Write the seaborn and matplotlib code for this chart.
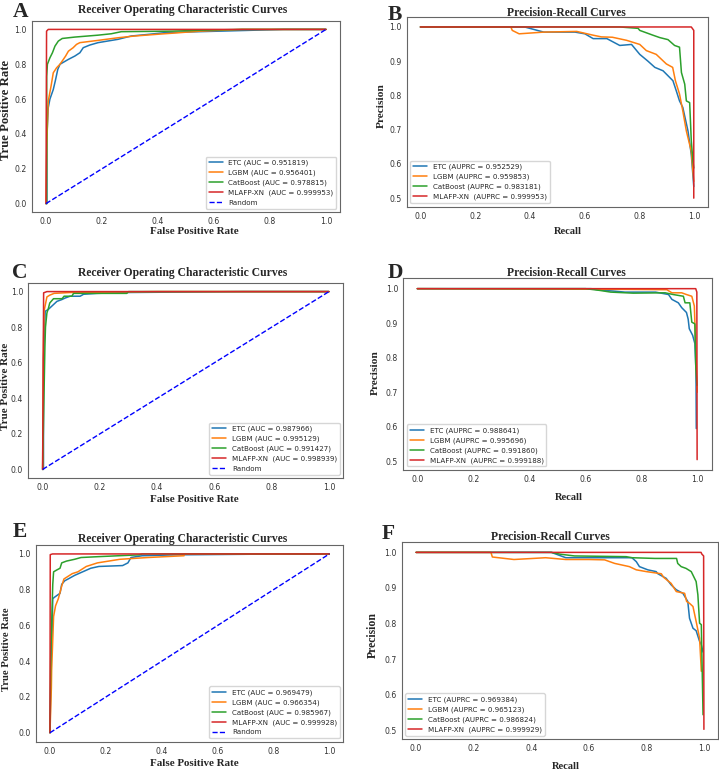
import matplotlib
matplotlib.use("Agg")
import matplotlib.pyplot as plt
import seaborn as sns

# ---- Valeurs ----
models = ["ETC", "LGBM", "CatBoost", "MLAFP-XN "]

# Panel A : ROC
a_etc_x = [0, 0.003, 0.003, 0.008, 0.014, 0.026, 0.034, 0.042, 0.05, 0.08, 0.103, 0.121, 0.133, 0.156, 0.186, 0.257, 0.304, 0.363, 0.422, 0.5, 0.62, 0.85, 1.0]
a_etc_y = [0, 0, 0.38, 0.55, 0.6, 0.655, 0.71, 0.77, 0.8, 0.828, 0.847, 0.866, 0.895, 0.91, 0.924, 0.943, 0.962, 0.971, 0.981, 0.985, 0.99, 1.0, 1.0]
a_lgbm_x = [0, 0.003, 0.005, 0.008, 0.018, 0.026, 0.038, 0.05, 0.062, 0.07, 0.08, 0.097, 0.109, 0.121, 0.186, 0.257, 0.316, 0.422, 0.45, 0.55, 0.7, 1.0]
a_lgbm_y = [0, 0.33, 0.45, 0.588, 0.674, 0.751, 0.78, 0.8, 0.828, 0.847, 0.875, 0.895, 0.914, 0.924, 0.937, 0.952, 0.962, 0.975, 0.978, 0.99, 1.0, 1.0]
a_cat_x = [0, 0.0025, 0.0025, 0.005, 0.014, 0.023, 0.032, 0.044, 0.058, 0.103, 0.186, 0.233, 0.269, 0.45, 0.55, 0.7, 1.0]
a_cat_y = [0, 0, 0.73, 0.8, 0.837, 0.866, 0.904, 0.933, 0.948, 0.956, 0.967, 0.975, 0.987, 0.99, 0.995, 1.0, 1.0]
a_mlafp_x = [0, 0.002, 0.008, 1.0]
a_mlafp_y = [0, 0.99, 1.0, 1.0]
a_scores = [0.951819, 0.956401, 0.978815, 0.999953]

# Panel B : Precision-Recall
b_etc_x = [0, 0.38, 0.45, 0.564, 0.6, 0.63, 0.68, 0.727, 0.77, 0.8, 0.83, 0.855, 0.885, 0.921, 0.933, 0.945, 0.957, 0.976, 0.988, 0.997]
b_etc_y = [1.0, 1.0, 0.985, 0.985, 0.98, 0.966, 0.966, 0.946, 0.949, 0.92, 0.9, 0.882, 0.872, 0.843, 0.814, 0.784, 0.765, 0.696, 0.627, 0.534]
b_lgbm_x = [0, 0.33, 0.335, 0.36, 0.45, 0.57, 0.63, 0.66, 0.7, 0.752, 0.8, 0.824, 0.86, 0.897, 0.92, 0.93, 0.945, 0.957, 0.97, 0.988, 0.997]
b_lgbm_y = [1.0, 1.0, 0.99, 0.98, 0.985, 0.987, 0.976, 0.971, 0.97, 0.961, 0.949, 0.931, 0.92, 0.892, 0.882, 0.843, 0.804, 0.755, 0.696, 0.637, 0.549]
b_cat_x = [0, 0.727, 0.794, 0.8, 0.848, 0.873, 0.903, 0.927, 0.945, 0.952, 0.964, 0.97, 0.982, 0.988, 0.994, 0.997]
b_cat_y = [1.0, 1.0, 0.996, 0.99, 0.976, 0.969, 0.963, 0.946, 0.941, 0.867, 0.833, 0.784, 0.779, 0.667, 0.608, 0.588]
b_mlafp_x = [0, 0.988, 0.997, 0.997]
b_mlafp_y = [1.0, 1.0, 0.99, 0.5]
b_scores = [0.952529, 0.959853, 0.983181, 0.999953]

# Panel C : ROC
c_etc_x = [0, 0.003, 0.003, 0.009, 0.02, 0.038, 0.05, 0.067, 0.079, 0.096, 0.131, 0.143, 0.19, 0.3, 0.7, 1.0]
c_etc_y = [0, 0, 0.62, 0.889, 0.9, 0.927, 0.945, 0.955, 0.964, 0.974, 0.974, 0.985, 0.99, 0.995, 1.0, 1.0]
c_lgbm_x = [0, 0.003, 0.005, 0.01, 0.015, 0.025, 0.04, 0.1, 0.4, 1.0]
c_lgbm_y = [0, 0.7, 0.89, 0.93, 0.97, 0.98, 0.99, 0.995, 1.0, 1.0]
c_cat_x = [0, 0.008, 0.01, 0.015, 0.02, 0.025, 0.038, 0.068, 0.075, 0.102, 0.108, 0.294, 0.3, 1.0]
c_cat_y = [0, 0.69, 0.8, 0.88, 0.905, 0.936, 0.96, 0.96, 0.974, 0.974, 0.99, 0.99, 1.0, 1.0]
c_mlafp_x = [0, 0.0035, 0.015, 1.0]
c_mlafp_y = [0, 0.993, 1.0, 1.0]
c_scores = [0.987966, 0.995129, 0.991427, 0.998939]

# Panel D : Precision-Recall
d_etc_x = [0, 0.62, 0.65, 0.7, 0.74, 0.85, 0.896, 0.908, 0.931, 0.943, 0.96, 0.966, 0.97, 0.982, 0.99, 0.994, 0.995]
d_etc_y = [1.0, 1.0, 0.996, 0.993, 0.99, 0.99, 0.983, 0.969, 0.959, 0.945, 0.931, 0.912, 0.884, 0.865, 0.841, 0.761, 0.595]
d_lgbm_x = [0, 0.74, 0.89, 0.908, 0.943, 0.96, 0.979, 0.988, 0.99, 0.997, 0.998]
d_lgbm_y = [1.0, 0.998, 0.997, 0.988, 0.988, 0.983, 0.978, 0.95, 0.903, 0.733, 0.7]
d_cat_x = [0, 0.6, 0.65, 0.69, 0.77, 0.884, 0.913, 0.949, 0.955, 0.972, 0.979, 0.99, 0.993, 0.997]
d_cat_y = [1.0, 1.0, 0.995, 0.99, 0.987, 0.988, 0.983, 0.978, 0.959, 0.959, 0.903, 0.898, 0.78, 0.72]
d_mlafp_x = [0, 0.993, 0.997, 0.998]
d_mlafp_y = [1.0, 1.0, 0.99, 0.505]
d_scores = [0.988641, 0.995696, 0.991860, 0.999188]

# Panel E : ROC
e_etc_x = [0, 0.005, 0.007, 0.01, 0.018, 0.036, 0.042, 0.053, 0.065, 0.088, 0.117, 0.146, 0.175, 0.26, 0.279, 0.29, 0.33, 0.45, 0.85, 1.0]
e_etc_y = [0, 0.5, 0.52, 0.75, 0.76, 0.78, 0.83, 0.85, 0.86, 0.88, 0.9, 0.92, 0.93, 0.935, 0.95, 0.98, 0.99, 0.995, 1.0, 1.0]
e_lgbm_x = [0, 0.005, 0.006, 0.013, 0.02, 0.03, 0.042, 0.05, 0.06, 0.08, 0.1, 0.13, 0.17, 0.25, 0.35, 0.48, 0.48, 1.0]
e_lgbm_y = [0, 0.25, 0.35, 0.65, 0.71, 0.75, 0.82, 0.86, 0.87, 0.89, 0.9, 0.93, 0.95, 0.97, 0.98, 0.99, 1.0, 1.0]
e_cat_x = [0, 0.003, 0.005, 0.01, 0.013, 0.024, 0.036, 0.042, 0.059, 0.088, 0.111, 0.175, 0.32, 0.33, 1.0]
e_cat_y = [0, 0.46, 0.55, 0.83, 0.9, 0.91, 0.92, 0.95, 0.96, 0.97, 0.98, 0.985, 0.995, 1.0, 1.0]
e_mlafp_x = [0, 0.001, 0.009, 1.0]
e_mlafp_y = [0, 0.996, 1.0, 1.0]
e_scores = [0.969479, 0.966354, 0.985967, 0.999928]

# Panel F : Precision-Recall
f_etc_x = [0, 0.47, 0.52, 0.6, 0.75, 0.765, 0.776, 0.805, 0.834, 0.84, 0.869, 0.886, 0.904, 0.927, 0.944, 0.95, 0.962, 0.973, 0.985, 0.991, 0.997]
f_etc_y = [1.0, 1.0, 0.985, 0.985, 0.985, 0.974, 0.96, 0.951, 0.946, 0.94, 0.927, 0.909, 0.895, 0.885, 0.862, 0.815, 0.787, 0.78, 0.75, 0.74, 0.72]
f_lgbm_x = [0, 0.26, 0.265, 0.34, 0.45, 0.52, 0.6, 0.655, 0.69, 0.741, 0.765, 0.8, 0.852, 0.86, 0.886, 0.904, 0.933, 0.94, 0.95, 0.962, 0.973, 0.985, 0.991]
f_lgbm_y = [1.0, 1.0, 0.987, 0.98, 0.985, 0.98, 0.98, 0.979, 0.969, 0.96, 0.951, 0.946, 0.94, 0.93, 0.913, 0.89, 0.885, 0.862, 0.857, 0.848, 0.806, 0.759, 0.666]
f_cat_x = [0, 0.47, 0.5, 0.55, 0.73, 0.75, 0.83, 0.905, 0.909, 0.921, 0.938, 0.956, 0.973, 0.979, 0.985, 0.991, 0.997]
f_cat_y = [1.0, 1.0, 0.995, 0.99, 0.988, 0.985, 0.983, 0.983, 0.969, 0.96, 0.955, 0.946, 0.918, 0.881, 0.801, 0.797, 0.544]
f_mlafp_x = [0, 0.99, 0.993, 0.999, 1.0]
f_mlafp_y = [1.0, 1.0, 0.995, 0.99, 0.503]
f_scores = [0.969384, 0.965123, 0.986824, 0.999929]

roc_ticks = [0.0, 0.2, 0.4, 0.6, 0.8, 1.0]
pr_yticks = [0.5, 0.6, 0.7, 0.8, 0.9, 1.0]

W, H = 719, 771
SERIF = "Liberation Serif"


def px_rect(l, t, r, b):
    return [l / W, 1 - b / H, (r - l) / W, (b - t) / H]


def main():
    sns.set_style("white")
    plt.rcParams["font.family"] = ["DejaVu Sans"]
    colors = sns.color_palette("tab10")[:4]

    fig = plt.figure(figsize=(W / 100, H / 100), dpi=100)

    panels = [
        # letter, kind, curves, scores, rect px, letter pos, title (x, pad), xlabel (x, y, size), ylabel (x, y, size)
        ("A", "roc", [(a_etc_x, a_etc_y), (a_lgbm_x, a_lgbm_y), (a_cat_x, a_cat_y), (a_mlafp_x, a_mlafp_y)], a_scores,
         (32, 20.7, 340, 212.3), (12.7, 16.7), (0.49, 5.3), (0.528, -0.079, 7.9), (-0.066, 0.534, 9.2)),
        ("B", "pr", [(b_etc_x, b_etc_y), (b_lgbm_x, b_lgbm_y), (b_cat_x, b_cat_y), (b_mlafp_x, b_mlafp_y)], b_scores,
         (406.7, 16.7, 708.3, 206.7), (388, 20), (0.53, 0.8), (0.536, -0.105, 7.6), (-0.069, 0.531, 8.2)),
        ("C", "roc", [(c_etc_x, c_etc_y), (c_lgbm_x, c_lgbm_y), (c_cat_x, c_cat_y), (c_mlafp_x, c_mlafp_y)], c_scores,
         (28.3, 282.7, 343.3, 478.3), (11.7, 278.3), (0.491, 4.8), (0.526, -0.085, 7.9), (-0.058, 0.468, 8.0)),
        ("D", "pr", [(d_etc_x, d_etc_y), (d_lgbm_x, d_lgbm_y), (d_cat_x, d_cat_y), (d_mlafp_x, d_mlafp_y)], d_scores,
         (403.3, 278.3, 711.7, 470), (388, 278.3), (0.53, 1.9), (0.536, -0.122, 7.6), (-0.076, 0.509, 8.2)),
        ("E", "roc", [(e_etc_x, e_etc_y), (e_lgbm_x, e_lgbm_y), (e_cat_x, e_cat_y), (e_mlafp_x, e_mlafp_y)], e_scores,
         (36, 545, 343.3, 741.7), (12.7, 536.7), (0.478, 1.9), (0.514, -0.086, 7.9), (-0.08, 0.47, 7.7)),
        ("F", "pr", [(f_etc_x, f_etc_y), (f_lgbm_x, f_lgbm_y), (f_cat_x, f_cat_y), (f_mlafp_x, f_mlafp_y)], f_scores,
         (401.7, 541.7, 718.3, 739.3), (381.7, 539.3), (0.471, 1.2), (0.518, -0.113, 7.6), (-0.072, 0.528, 8.5)),
    ]

    for letter, kind, curves, scores, rect, lpos, tpos, xl, yl in panels:
        ax = fig.add_axes(px_rect(*rect))
        metric = "AUC" if kind == "roc" else "AUPRC"

        # Courbes des modeles
        for (xs, ys), name, score, col in zip(curves, models, scores, colors):
            sns.lineplot(x=xs, y=ys, ax=ax, estimator=None, sort=False, color=col, lw=1.1,
                         label=f"{name} ({metric} = {score:.6f})")

        if kind == "roc":
            sns.lineplot(x=[0, 1], y=[0, 1], ax=ax, estimator=None, sort=False, color="blue",
                         linestyle="--", lw=1.0, label="Random")
            ax.set_xlim(-0.05, 1.05)
            ax.set_ylim(-0.05, 1.05)
            ax.set_yticks(roc_ticks)
            title = "Receiver Operating Characteristic Curves"
            xlabel, ylabel = "False Positive Rate", "True Positive Rate"
            loc = "lower right"
        else:
            ax.set_xlim(-0.05, 1.05)
            ax.set_ylim(0.475, 1.03)
            ax.set_yticks(pr_yticks)
            title = "Precision-Recall Curves"
            xlabel, ylabel = "Recall", "Precision"
            loc = "lower left"
        ax.set_xticks(roc_ticks)

        ax.tick_params(labelsize=5.6, length=2.2, width=0.5, pad=1.5, colors="#333333")
        for sp in ax.spines.values():
            sp.set_color("#666666")
            sp.set_linewidth(0.8)

        ax.set_title(title, x=tpos[0], pad=tpos[1], fontsize=8.4, fontweight="bold", family=SERIF)
        ax.set_xlabel(xlabel, fontsize=xl[2], fontweight="bold", family=SERIF)
        ax.xaxis.set_label_coords(xl[0], xl[1])
        ax.set_ylabel(ylabel, fontsize=yl[2], fontweight="bold", family=SERIF)
        ax.yaxis.set_label_coords(yl[0], yl[1])

        ax.legend(loc=loc, fontsize=5.1)

        fig.text(lpos[0] / W, 1 - lpos[1] / H, letter, fontsize=15.5, fontweight="bold",
                 family=SERIF, ha="left", va="baseline")

    fig.savefig("out.png", dpi=100)


if __name__ == "__main__":
    main()
